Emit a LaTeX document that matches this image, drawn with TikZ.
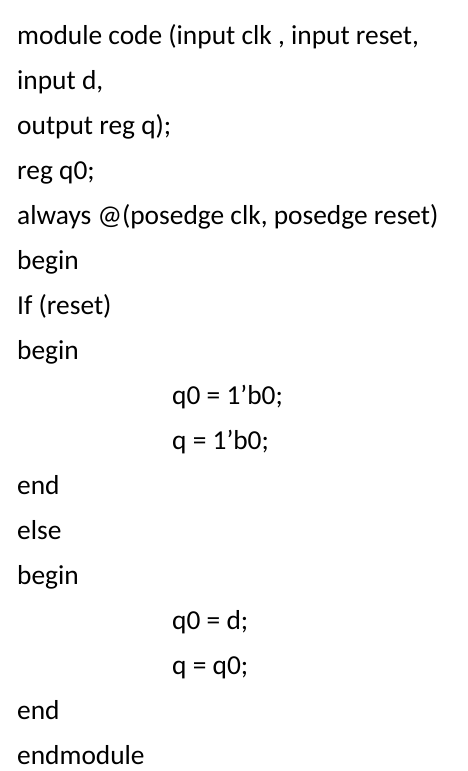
\documentclass[tikz,border=0pt]{standalone}
\usepackage{fontspec}
\setmainfont{Carlito}
\newfontfamily\codefont{Carlito}

\tikzset{
  codeline/.style={anchor=base west, inner sep=0pt, font=\codefont\fontsize{27.4}{27.4}\selectfont},
}

\begin{document}
\begin{tikzpicture}[x=1pt,y=1pt]

\useasboundingbox (0,0) rectangle (468,771);

% left margin at 17, indent at 172, baselines about 45 apart
\node [codeline] (l1)  at (17,726)     {module code (input clk , input reset,};
\node [codeline] (l2)  at (17,681.06)  {input d,};
\node [codeline] (l3)  at (17,636.12)  {output reg q);};
\node [codeline] (l4)  at (17,591.18)  {reg q0;};
\node [codeline] (l5)  at (17,546.24)  {always @(posedge clk, posedge reset)};
\node [codeline] (l6)  at (17,501.3)   {begin};
\node [codeline] (l7)  at (17,456.36)  {If (reset)};
\node [codeline] (l8)  at (17,411.42)  {begin};
\node [codeline] (l9)  at (172,366.48) {q0 = 1’b0;};
\node [codeline] (l10) at (172,321.54) {q = 1’b0;};
\node [codeline] (l11) at (17,276.6)   {end};
\node [codeline] (l12) at (17,231.66)  {else};
\node [codeline] (l13) at (17,186.72)  {begin};
\node [codeline] (l14) at (172,141.78) {q0 = d;};
\node [codeline] (l15) at (172,96.84)  {q = q0;};
\node [codeline] (l16) at (17,51.9)    {end};
\node [codeline] (l17) at (17,6.96)    {endmodule};

\end{tikzpicture}
\end{document}
